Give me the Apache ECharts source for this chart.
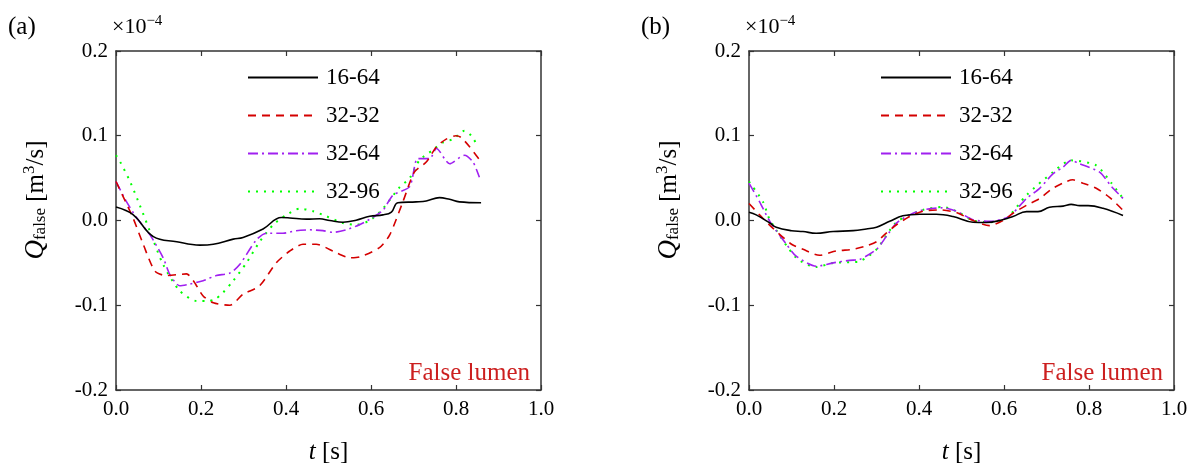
<!DOCTYPE html>
<html>
<head>
<meta charset="utf-8">
<script src="https://cdn.jsdelivr.net/npm/echarts@6/dist/echarts.min.js"></script>
<style>
  html, body { margin: 0; padding: 0; background: #fff; }
  #chart { width: 1194px; height: 470px; }
</style>
</head>
<body>
<div id="chart"></div>
<script>
// 图例名称
const seriesNames = ['16-64', '32-32', '32-64', '32-96'];
const xTicks = [0, 0.2, 0.4, 0.6, 0.8, 1.0];
const yTicks = [-0.2, -0.1, 0, 0.1, 0.2];

// (a) 数据 [t, Q]
const a1664 = [[0,0.016],[0.04,0.007],[0.088,-0.019],[0.143,-0.025],[0.197,-0.029],[0.229,-0.028],[0.276,-0.022],[0.299,-0.020],[0.346,-0.010],[0.389,0.0035],[0.409,0.003],[0.448,0.0016],[0.479,0.002],[0.503,0],[0.534,-0.002],[0.565,0.0004],[0.597,0.005],[0.628,0.0066],[0.648,0.010],[0.663,0.021],[0.706,0.022],[0.73,0.023],[0.761,0.027],[0.785,0.025],[0.808,0.022],[0.859,0.021]];
const a3232 = [[0,0.046],[0.04,0.003],[0.064,-0.028],[0.092,-0.060],[0.119,-0.065],[0.166,-0.063],[0.182,-0.071],[0.205,-0.089],[0.229,-0.097],[0.268,-0.100],[0.299,-0.087],[0.338,-0.077],[0.377,-0.050],[0.409,-0.036],[0.44,-0.028],[0.471,-0.028],[0.518,-0.038],[0.55,-0.044],[0.573,-0.043],[0.62,-0.032],[0.644,-0.017],[0.675,0.022],[0.702,0.057],[0.73,0.069],[0.754,0.087],[0.777,0.096],[0.8,0.100],[0.812,0.098],[0.832,0.087],[0.859,0.069]];
const a3264 = [[0,0.046],[0.025,0.022],[0.049,0.003],[0.08,-0.017],[0.111,-0.044],[0.127,-0.064],[0.15,-0.077],[0.174,-0.075],[0.205,-0.071],[0.236,-0.065],[0.268,-0.062],[0.291,-0.052],[0.33,-0.023],[0.354,-0.015],[0.393,-0.015],[0.424,-0.012],[0.456,-0.011],[0.487,-0.012],[0.51,-0.014],[0.541,-0.011],[0.573,-0.005],[0.604,0.0035],[0.628,0.012],[0.652,0.030],[0.691,0.040],[0.71,0.073],[0.738,0.073],[0.754,0.085],[0.785,0.067],[0.82,0.077],[0.84,0.069],[0.855,0.051]];
const a3296 = [[0,0.077],[0.01,0.069],[0.033,0.046],[0.056,0.018],[0.08,-0.013],[0.111,-0.052],[0.15,-0.083],[0.19,-0.095],[0.213,-0.095],[0.233,-0.093],[0.252,-0.085],[0.276,-0.071],[0.307,-0.050],[0.338,-0.025],[0.37,-0.005],[0.401,0.0066],[0.432,0.014],[0.464,0.011],[0.495,0.005],[0.534,-0.003],[0.565,-0.005],[0.597,0],[0.628,0.014],[0.667,0.039],[0.691,0.050],[0.714,0.071],[0.745,0.083],[0.769,0.092],[0.793,0.096],[0.82,0.106],[0.836,0.100],[0.851,0.088]];

// (b) 数据 [t, Q]
const b1664 = [[0,0.0097],[0.017,0.0066],[0.049,-0.003],[0.064,-0.008],[0.1,-0.012],[0.127,-0.013],[0.158,-0.015],[0.198,-0.013],[0.245,-0.012],[0.276,-0.010],[0.3,-0.008],[0.331,-0.001],[0.362,0.0055],[0.402,0.0074],[0.441,0.0074],[0.48,0.0047],[0.527,-0.002],[0.558,-0.0023],[0.59,0],[0.621,0.0047],[0.653,0.0105],[0.68,0.0105],[0.707,0.0156],[0.739,0.017],[0.758,0.019],[0.778,0.0175],[0.798,0.0175],[0.833,0.0144],[0.88,0.006]];
const b3232 = [[0,0.020],[0.025,0.0066],[0.056,-0.009],[0.1,-0.028],[0.127,-0.034],[0.166,-0.041],[0.205,-0.036],[0.245,-0.034],[0.276,-0.030],[0.3,-0.025],[0.323,-0.015],[0.347,-0.005],[0.378,0.0047],[0.409,0.011],[0.449,0.0125],[0.488,0.0094],[0.527,0],[0.566,-0.006],[0.598,0],[0.621,0.0086],[0.653,0.018],[0.684,0.026],[0.715,0.038],[0.747,0.046],[0.762,0.048],[0.786,0.044],[0.817,0.038],[0.849,0.027],[0.88,0.012]];
const b3264 = [[0,0.044],[0.025,0.022],[0.049,-0.001],[0.088,-0.028],[0.111,-0.042],[0.158,-0.054],[0.198,-0.050],[0.237,-0.047],[0.26,-0.046],[0.3,-0.034],[0.323,-0.019],[0.347,-0.003],[0.378,0.0066],[0.409,0.0125],[0.456,0.015],[0.488,0.011],[0.527,0.001],[0.566,-0.001],[0.605,0.003],[0.621,0.0086],[0.653,0.026],[0.684,0.038],[0.715,0.055],[0.739,0.063],[0.758,0.071],[0.778,0.067],[0.825,0.057],[0.853,0.040],[0.88,0.026]];
const b3296 = [[0,0.046],[0.033,0.022],[0.049,0.001],[0.111,-0.044],[0.158,-0.055],[0.198,-0.050],[0.26,-0.048],[0.3,-0.034],[0.347,-0.002],[0.409,0.0125],[0.456,0.016],[0.488,0.011],[0.527,0],[0.566,-0.002],[0.605,0.002],[0.653,0.030],[0.715,0.057],[0.758,0.071],[0.817,0.065],[0.853,0.044],[0.88,0.026]];

const FONT = 'Liberation Serif';
const AXIS_COLOR = '#333';
const colors = ['#000000', '#d40000', '#a020f0', '#00ff00'];
const dashes = ['solid', [8, 6], [10, 4, 2, 4], [2, 6]];

const panels = [
  { left: 116, data: [a1664, a3232, a3264, a3296], label: '(a)' },
  { left: 749, data: [b1664, b3232, b3264, b3296], label: '(b)' }
];
const gridTop = 51, gridW = 425, gridH = 342;

const chart = echarts.init(document.getElementById('chart'));

let grid = [], xAxis = [], yAxis = [], series = [], legend = [], graphic = [];

panels.forEach((p, pi) => {
  grid.push({ left: p.left, top: gridTop, width: gridW, height: gridH });
  // 底部 x 轴 + 顶部 x 轴（只画刻度）
  const xBase = {
    gridIndex: pi, type: 'value', min: 0, max: 1, interval: 0.2,
    axisLine: { show: true, onZero: false, lineStyle: { color: AXIS_COLOR, width: 1.5 } },
    axisTick: { show: true, inside: true, length: 5, lineStyle: { color: AXIS_COLOR, width: 1.2 } },
    splitLine: { show: false }
  };
  xAxis.push(Object.assign({}, xBase, {
    position: 'bottom',
    axisLabel: { show: true, margin: 9, fontFamily: FONT, fontSize: 21, color: '#000',
      formatter: v => v.toFixed(1) },
    name: '{i|t} [s]', nameLocation: 'middle', nameGap: 50,
    nameTextStyle: { fontFamily: FONT, fontSize: 25, color: '#000',
      rich: { i: { fontFamily: FONT, fontSize: 25, fontStyle: 'italic', color: '#000' } } }
  }));
  xAxis.push(Object.assign({}, xBase, { position: 'top', axisLabel: { show: false } }));

  const yBase = {
    gridIndex: pi, type: 'value', min: -0.2, max: 0.2, interval: 0.1,
    axisLine: { show: true, onZero: false, lineStyle: { color: AXIS_COLOR, width: 1.5 } },
    axisTick: { show: true, inside: true, length: 5, lineStyle: { color: AXIS_COLOR, width: 1.2 } },
    splitLine: { show: false }
  };
  yAxis.push(Object.assign({}, yBase, {
    position: 'left',
    axisLabel: { show: true, margin: 8, fontFamily: FONT, fontSize: 21, color: '#000',
      formatter: v => (Math.abs(v) < 1e-9 ? 0 : v).toFixed(1) }
  }));
  yAxis.push(Object.assign({}, yBase, { position: 'right', axisLabel: { show: false } }));

  p.data.forEach((d, si) => {
    series.push({
      name: seriesNames[si], type: 'line',
      xAxisIndex: pi * 2, yAxisIndex: pi * 2,
      data: d, symbol: 'none', smooth: si === 0 ? 0.4 : 0.25,
      lineStyle: { color: colors[si], width: si === 3 ? 2 : 1.6, type: dashes[si] },
      itemStyle: { color: colors[si] },
      z: 10 - si
    });
  });

  legend.push({
    data: seriesNames, orient: 'vertical',
    left: p.left + 126, top: 61,
    itemWidth: 70, itemHeight: 14, itemGap: 15,
    itemStyle: { opacity: 0 },
    textStyle: { fontFamily: FONT, fontSize: 23, color: '#000', padding: [0, 0, 0, 3] }
  });

  // 面板标签
  graphic.push({ type: 'text', left: p.left - 108, top: 15,
    style: { text: p.label, fontFamily: FONT, fontSize: 25, fill: '#000' } });
  // ×10^-4
  graphic.push({ type: 'text', left: p.left - 4, top: 14,
    style: { text: '×10{s|−4}', fontFamily: FONT, fontSize: 22, fill: '#000',
      rich: { s: { fontFamily: FONT, fontSize: 15, fill: '#000', verticalAlign: 'top', padding: [0, 0, 12, 0] } } } });
  // y 轴标题
  graphic.push({ type: 'text', x: p.left - 80, y: 200, rotation: Math.PI / 2,
    style: { text: '{q|Q}{sub|false} [m{sup|3}/s]', fontFamily: FONT, fontSize: 25, fill: '#000',
      align: 'center', verticalAlign: 'middle',
      rich: {
        q: { fontFamily: FONT, fontSize: 27, fontStyle: 'italic', fill: '#000' },
        sub: { fontFamily: FONT, fontSize: 17, fill: '#000', padding: [10, 0, 0, 0] },
        sup: { fontFamily: FONT, fontSize: 17, fill: '#000', padding: [0, 0, 12, 0] }
      } } });
  // False lumen
  graphic.push({ type: 'text', x: p.left + gridW - 11, y: 373,
    style: { text: 'False lumen', fontFamily: FONT, fontSize: 25, fill: '#cc1f1f',
      align: 'right', verticalAlign: 'middle' } });
});

chart.setOption({
  animation: false,
  backgroundColor: '#fff',
  grid, xAxis, yAxis, series, legend, graphic
});
</script>
</body>
</html>
